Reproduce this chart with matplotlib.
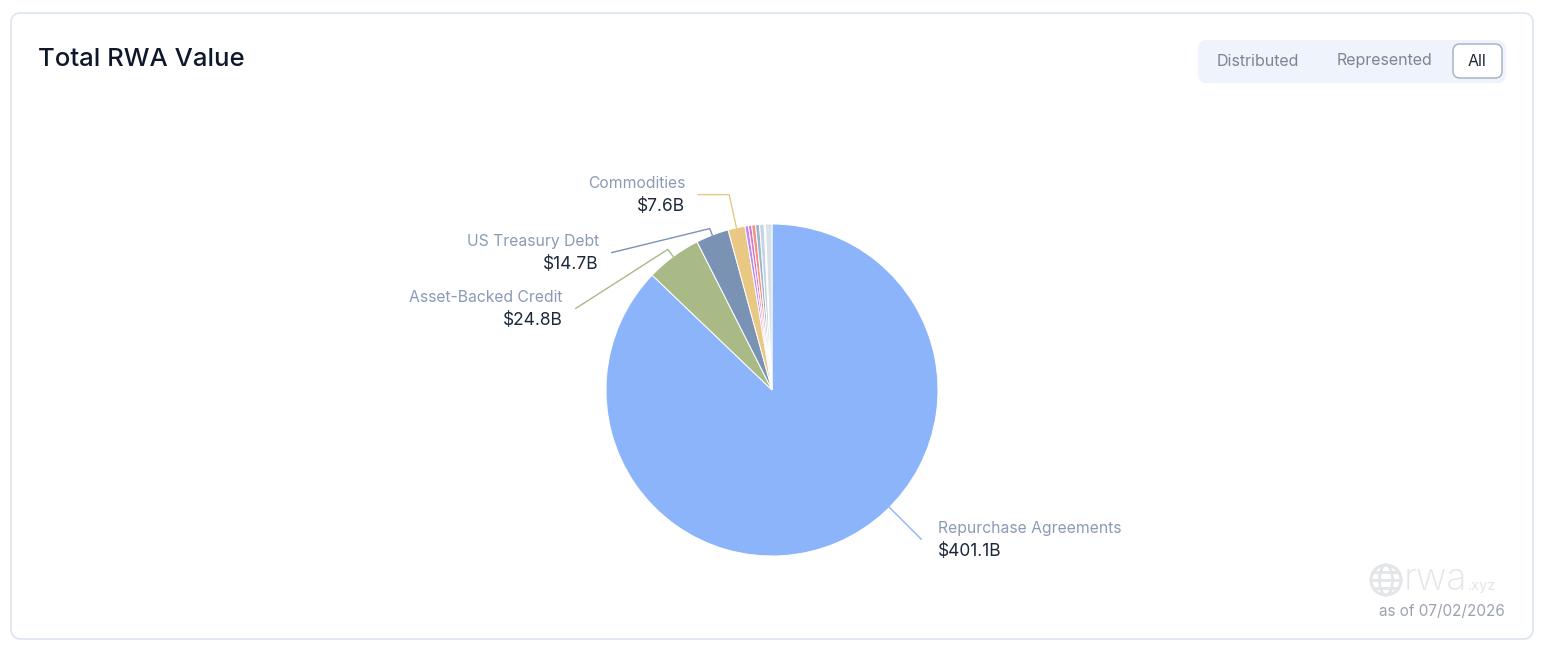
import numpy as np
import matplotlib.pyplot as plt
from matplotlib.patches import FancyBboxPatch, Circle, Ellipse

plt.rcParams['font.family'] = ['Inter', 'DejaVu Sans']

# data (billions USD)
categories = ['Repurchase Agreements', 'Asset-Backed Credit', 'US Treasury Debt', 'Commodities',
              'Institutional Alternative Funds', 'Private Equity', 'Corporate Bonds',
              'Non-US Government Debt', 'Actively-Managed Strategies', 'Stocks', 'Private Credit']
values = [401.1, 24.8, 14.7, 7.6, 1.6, 1.4, 1.7, 1.8, 2.0, 0.6, 2.9]
colors = ['#8cb4fb', '#a9ba87', '#7a93b4', '#e8c882', '#b98bef', '#d874c8', '#f58f7e',
          '#9cb6cf', '#c5d3e2', '#eedf98', '#d9e2ec']
labeled = [0, 1, 2, 3]

W, H = 1544, 649
fig = plt.figure(figsize=(W / 100, H / 100), dpi=100)
ax = fig.add_axes([0, 0, 1, 1])

# card
ax.add_patch(FancyBboxPatch((11, 13), 1522, 626, boxstyle='round,pad=0,rounding_size=10',
                            fc='white', ec='#e1e7f0', lw=1.3))
ax.text(38, 59, 'Total RWA Value', fontsize=18.5, color='#0f172a', fontweight='medium',
        va='center', ha='left')

# toggle buttons
ax.add_patch(FancyBboxPatch((1198, 40), 308, 43, boxstyle='round,pad=0,rounding_size=9',
                            fc='#eef3fc', ec='none'))
ax.add_patch(FancyBboxPatch((1453, 44), 49, 34, boxstyle='round,pad=0,rounding_size=7',
                            fc='white', ec='#a9b4c6', lw=1.1))
ax.text(1258, 61, 'Distributed', fontsize=11.5, color='#7d8594', ha='center', va='center')
ax.text(1384, 61, 'Represented', fontsize=11.5, color='#7d8594', ha='center', va='center')
ax.text(1477, 61, 'All', fontsize=11.5, color='#1f2937', ha='center', va='center')

# pie (y axis runs downwards, so counterclock=True draws clockwise on screen)
cx, cy, r = 772, 390, 166
wedges, _ = ax.pie(values, colors=colors, startangle=-90, counterclock=True, radius=r,
                   center=(cx, cy), wedgeprops=dict(edgecolor='white', linewidth=0.7))

# label layout: anchor angle override, extra radius to elbow, offset from elbow to label end
label_angle = {0: 45}
elbow_ext = {0: 45, 1: 9, 2: 7, 3: 34}
end_off = {0: (0, 0), 1: (-92, 59), 2: (-98, 24), 3: (-31, 0)}
for i in labeled:
    w = wedges[i]
    ang = label_angle.get(i, (w.theta1 + w.theta2) / 2)
    a = np.deg2rad(ang)
    p0 = (cx + r * np.cos(a), cy + r * np.sin(a))
    p1 = (cx + (r + elbow_ext[i]) * np.cos(a), cy + (r + elbow_ext[i]) * np.sin(a))
    p2 = (p1[0] + end_off[i][0], p1[1] + end_off[i][1])
    ax.plot([p0[0], p1[0], p2[0]], [p0[1], p1[1], p2[1]], color=colors[i], lw=1)
    if p2[0] > cx:
        tx, ha = p2[0] + 17, 'left'
    else:
        tx, ha = p2[0] - 13, 'right'
    ax.text(tx, p2[1] - 11, categories[i], fontsize=11.3, color='#8b9ab6', ha=ha, va='center')
    ax.text(tx, p2[1] + 12, f'${values[i]:.1f}B', fontsize=12.5, color='#1e293b', ha=ha, va='center')

# watermark
g = '#e3e5e9'
ax.add_patch(Circle((1386, 580), 15, fc='none', ec=g, lw=2.2))
ax.add_patch(Ellipse((1386, 580), 13, 30, fc='none', ec=g, lw=2))
ax.plot([1371, 1401], [580, 580], color=g, lw=2)
ax.plot([1374, 1398], [572, 572], color=g, lw=2)
ax.plot([1374, 1398], [588, 588], color=g, lw=2)
ax.text(1404, 590, 'rwa', fontsize=27, color=g, fontweight='light', ha='left', va='baseline')
ax.text(1468, 590, '.xyz', fontsize=10.5, color=g, ha='left', va='baseline')
ax.text(1505, 612, 'as of 07/02/2026', fontsize=11, color='#9ca3af', ha='right', va='center')

ax.set_xlim(0, W)
ax.set_ylim(H, 0)
ax.set_aspect('auto')
ax.axis('off')
fig.savefig('out.png', dpi=100, facecolor='white')
